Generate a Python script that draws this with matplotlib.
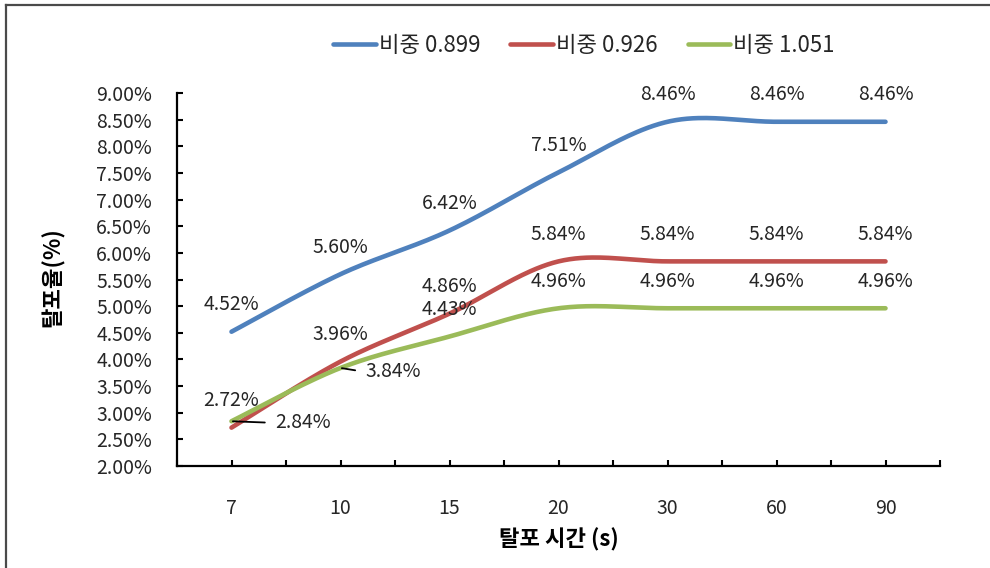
import numpy as np
import matplotlib
matplotlib.use("Agg")
import matplotlib.pyplot as plt
from matplotlib.lines import Line2D
from matplotlib.ticker import FuncFormatter, MultipleLocator, FixedLocator

plt.rcParams['font.family'] = ['Noto Sans CJK KR', 'DejaVu Sans']

# ---- data ----
categories = ['7', '10', '15', '20', '30', '60', '90']
series_names = ['비중 0.899', '비중 0.926', '비중 1.051']
rate_0899 = [4.52, 5.60, 6.42, 7.51, 8.46, 8.46, 8.46]
rate_0926 = [2.72, 3.96, 4.86, 5.84, 5.84, 5.84, 5.84]
rate_1051 = [2.84, 3.84, 4.43, 4.96, 4.96, 4.96, 4.96]
colors = ['#4F81BD', '#C0504D', '#9BBB59']
x_label = '탈포 시간 (s)'
y_label = '탈포율(%)'


def smooth(xs, ys, n=40):
    """Catmull-Rom style Bezier smoothing through every point."""
    xs = np.asarray(xs, float)
    ys = np.asarray(ys, float)
    px = np.concatenate([[xs[0]], xs, [xs[-1]]])
    py = np.concatenate([[ys[0]], ys, [ys[-1]]])
    out_x, out_y = [], []
    t = np.linspace(0, 1, n)
    for i in range(1, len(px) - 2):
        p0 = np.array([px[i], py[i]])
        p3 = np.array([px[i + 1], py[i + 1]])
        c1 = p0 + (np.array([px[i + 1], py[i + 1]]) - np.array([px[i - 1], py[i - 1]])) / 6
        c2 = p3 - (np.array([px[i + 2], py[i + 2]]) - np.array([px[i], py[i]])) / 6
        b = ((1 - t) ** 3)[:, None] * p0 + (3 * (1 - t) ** 2 * t)[:, None] * c1 \
            + (3 * (1 - t) * t ** 2)[:, None] * c2 + (t ** 3)[:, None] * p3
        if i > 1:
            b = b[1:]
        out_x.extend(b[:, 0])
        out_y.extend(b[:, 1])
    return np.array(out_x), np.array(out_y)


fig = plt.figure(figsize=(9.9, 5.68), dpi=100)
ax = fig.add_axes([177 / 990, 1 - 466 / 568, (940 - 177) / 990, (466 - 93) / 568])

xs = np.arange(len(categories))
all_series = [rate_0899, rate_0926, rate_1051]
for vals, name, col in zip(all_series, series_names, colors):
    sx, sy = smooth(xs, vals)
    ax.plot(sx, sy, color=col, lw=3.3, solid_capstyle='round', label=name, zorder=3)

text_kw = dict(fontsize=14, color='#262626', zorder=5)

# labels above the points
for vals in (rate_0899, rate_0926):
    for xi, v in zip(xs, vals):
        ax.annotate(f'{v:.2f}%', xy=(xi, v), xytext=(0, 19.5), textcoords='offset points',
                    ha='center', va='center', **text_kw)
for xi, v in zip(xs[2:], rate_1051[2:]):
    ax.annotate(f'{v:.2f}%', xy=(xi, v), xytext=(0, 19.5), textcoords='offset points',
                ha='center', va='center', **text_kw)

# labels placed to the right with leader lines
for xi, v, dx, dy in ((xs[0], rate_1051[0], 31.5, -1.2), (xs[1], rate_1051[1], 18, -2.9)):
    ax.annotate(f'{v:.2f}%', xy=(xi, v), xytext=(dx, dy), textcoords='offset points',
                ha='left', va='center',
                arrowprops=dict(arrowstyle='-', color='black', lw=1.3,
                                relpos=(0, 0.5), shrinkA=5.5, shrinkB=1),
                **text_kw)

# axes styling
ax.set_xlim(-0.5, len(categories) - 0.5)
ax.set_ylim(2.0, 9.0)
ax.yaxis.set_major_locator(MultipleLocator(0.5))
ax.yaxis.set_major_formatter(FuncFormatter(lambda v, p: f'{v:.2f}%'))
ax.set_xticks(xs)
ax.set_xticklabels(categories)
ax.xaxis.set_minor_locator(FixedLocator(np.arange(-0.5, len(categories), 1.0)))

for side in ('top', 'right'):
    ax.spines[side].set_visible(False)
for side in ('left', 'bottom'):
    ax.spines[side].set_linewidth(1.6)
    ax.spines[side].set_color('black')

ax.tick_params(axis='both', which='both', direction='in', length=4.5, width=1.5, color='black')
ax.tick_params(axis='y', which='major', pad=18, labelsize=14, labelcolor='#262626')
ax.tick_params(axis='x', which='major', pad=23, labelsize=14, labelcolor='#262626')

ax.set_xlabel(x_label, fontsize=16, fontweight='bold', labelpad=8)
fig.text(53 / 990, 1 - 277 / 568, y_label, rotation=90, fontsize=16, fontweight='bold',
         ha='center', va='center')
ax.xaxis.set_label_coords(0.5, -(540 - 466) / (466 - 93))
ax.xaxis.label.set_va('center')

handles = [Line2D([0], [0], color=c, lw=3.3, solid_capstyle='round') for c in colors]
fig.legend(handles, series_names, loc='center', bbox_to_anchor=(584 / 990, 1 - 45 / 568),
           ncol=3, frameon=False, fontsize=16, handlelength=1.9, handletextpad=0.15,
           columnspacing=1.35, labelcolor='#262626')

# outer frame edges
fig.add_artist(Line2D([6 / 990, 6 / 990], [0, 1 - 5 / 568], transform=fig.transFigure,
                      color='#4a4a4a', lw=1.6))
fig.add_artist(Line2D([6 / 990, 1], [1 - 5 / 568, 1 - 5 / 568], transform=fig.transFigure,
                      color='#4a4a4a', lw=1.6))

fig.savefig('out.png', dpi=100, facecolor='white')
